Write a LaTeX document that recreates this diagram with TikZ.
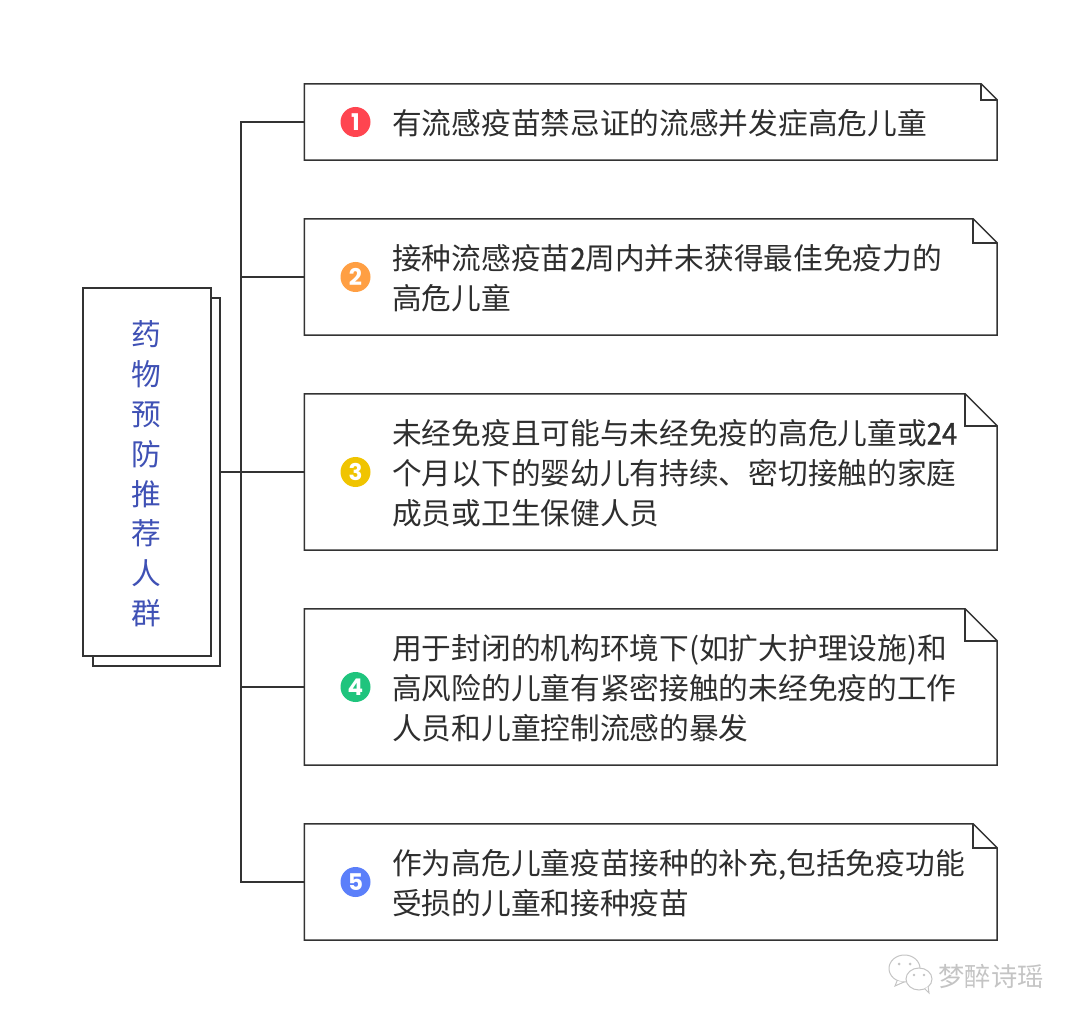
\documentclass[tikz,border=0pt]{standalone}
\usepackage{fontspec}
\setmainfont{Noto Sans CJK SC}
\newfontfamily\numfont{Poppins}
\newfontfamily\digfont[FakeBold=1.2,FakeStretch=0.92]{Noto Sans CJK SC}
\definecolor{linec}{HTML}{333333}
\definecolor{titlec}{HTML}{3F51B5}
\definecolor{textc}{HTML}{2E2E2E}
\definecolor{markc}{HTML}{C4C4C4}
\definecolor{numa}{HTML}{FF4550}
\definecolor{numb}{HTML}{FF9F43}
\definecolor{numc}{HTML}{F0C400}
\definecolor{numd}{HTML}{1FC47D}
\definecolor{nume}{HTML}{5B7FFA}
\tikzset{
	linkline/.style={draw=linec,line width=1.5pt},
	itemtext/.style={anchor=west,align=left,inner sep=0pt,text=textc,font=\fontsize{29.7}{40}\selectfont},
	numdot/.style={circle,minimum size=30pt,inner sep=0pt,text=white,font=\numfont\bfseries\fontsize{23}{23}\selectfont},
	markline/.style={draw=markc,line width=1pt,fill=white}
}
\begin{document}
\begin{tikzpicture}[x=1pt,y=-1pt,line join=miter]
	\useasboundingbox (0,0) rectangle (1080,1024);
	% left title sheets
	\node[draw=linec,line width=1.5pt,fill=white,minimum width=127pt,minimum height=368pt,inner sep=0pt] (back) at (156.5,482) {};
	\node[draw=linec,line width=1.5pt,fill=white,minimum width=128pt,minimum height=368pt,inner sep=0pt] (main) at (147,472) {};
	\node[align=center,inner sep=0pt,text=titlec,font=\fontsize{29.7}{39.8}\selectfont] (title) at (146.5,474) {药\\物\\预\\防\\推\\荐\\人\\群};
	% item boxes
	\foreach \i/\ytop/\ybot/\f/\col/\body in {
		1/84/160/16/numa/{有流感疫苗禁忌证的流感并发症高危儿童},
		2/219/335/24/numb/{接种流感疫苗{\digfont 2}周内并未获得最佳免疫力的\\高危儿童},
		3/394/550/32/numc/{未经免疫且可能与未经免疫的高危儿童或{\digfont 24}\\个月以下的婴幼儿有持续、密切接触的家庭\\成员或卫生保健人员},
		4/609/765/32/numd/{用于封闭的机构环境下(如扩大护理设施)和\\高风险的儿童有紧密接触的未经免疫的工作\\人员和儿童控制流感的暴发},
		5/824/940/24/nume/{作为高危儿童疫苗接种的补充,包括免疫功能\\受损的儿童和接种疫苗}}
	{
		\node[minimum width=692.5pt,minimum height=\ybot pt-\ytop pt,inner sep=0pt] (box\i) at (650.75,{(\ytop+\ybot)/2}) {};
		\draw[linkline] (box\i.north west) -- ([xshift=-\f pt]box\i.north east) -- ([yshift=-\f pt]box\i.north east) -- (box\i.south east) -- (box\i.south west) -- cycle;
		\draw[linkline] ([xshift=-\f pt]box\i.north east) |- ([yshift=-\f pt]box\i.north east);
		\node[numdot,fill=\col] (num\i) at (355.5,{(\ytop+\ybot)/2}) {\i};
		\node[itemtext] (txt\i) at (392,{(\ytop+\ybot)/2+1}) {\body};
	}
	% connectors
	\coordinate (trunk) at (241,472);
	\foreach \i in {1,2,4,5}
	\draw[linkline] (box\i.west) -| (trunk);
	\draw[linkline] (back.east |- trunk) -- (box3.west);
	% watermark
	\draw[markline] (904.5,968.5) ellipse (15.5pt and 13.5pt);
	\draw[markline] (897,981) -- (895,986) -- (904,982);
	\draw[markline] (919,979) ellipse (13pt and 11pt);
	\draw[markline] (925,989) -- (929,993) -- (928,986);
	\fill[markc] (899,964) circle (1.5pt) (910,964) circle (1.5pt) (914,975) circle (1.3pt) (924,975) circle (1.3pt);
	\node[inner sep=0pt,text=markc,font=\fontsize{26.3}{30}\selectfont] (brand) at (991,977) {梦醉诗瑶};
\end{tikzpicture}
\end{document}
